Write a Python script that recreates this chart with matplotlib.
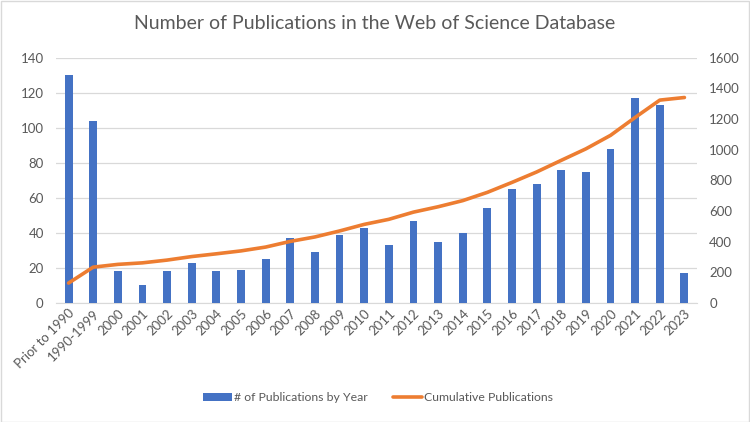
import matplotlib.pyplot as plt
import numpy as np

plt.rcParams['font.family'] = ['Lato', 'DejaVu Sans']

# data
years = ['Prior to 1990', '1990-1999', '2000', '2001', '2002', '2003', '2004', '2005',
         '2006', '2007', '2008', '2009', '2010', '2011', '2012', '2013', '2014', '2015',
         '2016', '2017', '2018', '2019', '2020', '2021', '2022', '2023']
pubs = [130, 104, 18, 10, 18, 23, 18, 19, 25, 37, 29, 39, 43, 33, 47, 35, 40, 54,
        65, 68, 76, 75, 88, 117, 113, 17]
cumulative = [130, 234, 252, 262, 280, 303, 321, 340, 365, 402, 431, 470, 513, 546,
              593, 628, 668, 722, 787, 855, 931, 1006, 1094, 1211, 1324, 1341]

txt = '#595959'
fig = plt.figure(figsize=(7.5, 4.22), dpi=100)
ax1 = fig.add_axes([0.075, 0.282, 0.854, 0.581])
ax2 = ax1.twinx()

x = np.arange(len(years))
b = ax1.bar(x, pubs, width=0.32, color='#4472C4', zorder=3, label='# of Publications by Year')
l, = ax2.plot(x, cumulative, color='#ED7D31', lw=2.6, solid_capstyle='round',
              label='Cumulative Publications', zorder=4)

ax1.set_xlim(-0.5, len(years) - 0.5)
ax1.set_ylim(0, 140)
ax1.set_yticks(range(0, 141, 20))
ax2.set_ylim(0, 1600)
ax2.set_yticks(range(0, 1601, 200))
ax1.grid(axis='y', color='#D9D9D9', lw=0.9, zorder=0)
ax1.set_xticks(x)
ax1.set_xticklabels(years, rotation=45, ha='right', rotation_mode='anchor')

for ax in (ax1, ax2):
    for s in ax.spines.values():
        s.set_visible(False)
    ax.tick_params(length=0, labelsize=9.5, colors=txt)
ax1.spines['bottom'].set_visible(True)
ax1.spines['bottom'].set_color('#D9D9D9')
ax1.tick_params(axis='y', pad=9)
ax2.tick_params(axis='y', pad=9)
ax1.tick_params(axis='x', pad=3)

fig.text(0.5, 0.945, 'Number of Publications in the Web of Science Database',
         ha='center', va='center', fontsize=14, color=txt)
fig.legend(handles=[b, l], loc='center', bbox_to_anchor=(0.504, 0.057), ncol=2,
           frameon=False, fontsize=8.8, labelcolor=txt, handlelength=2.4,
           columnspacing=2.0, handletextpad=0.2)

fig.patches.append(plt.Rectangle((0.001, 0.001), 0.998, 0.997, transform=fig.transFigure,
                                 fill=False, ec='#D9D9D9', lw=1))
fig.savefig('out.png', dpi=100)
